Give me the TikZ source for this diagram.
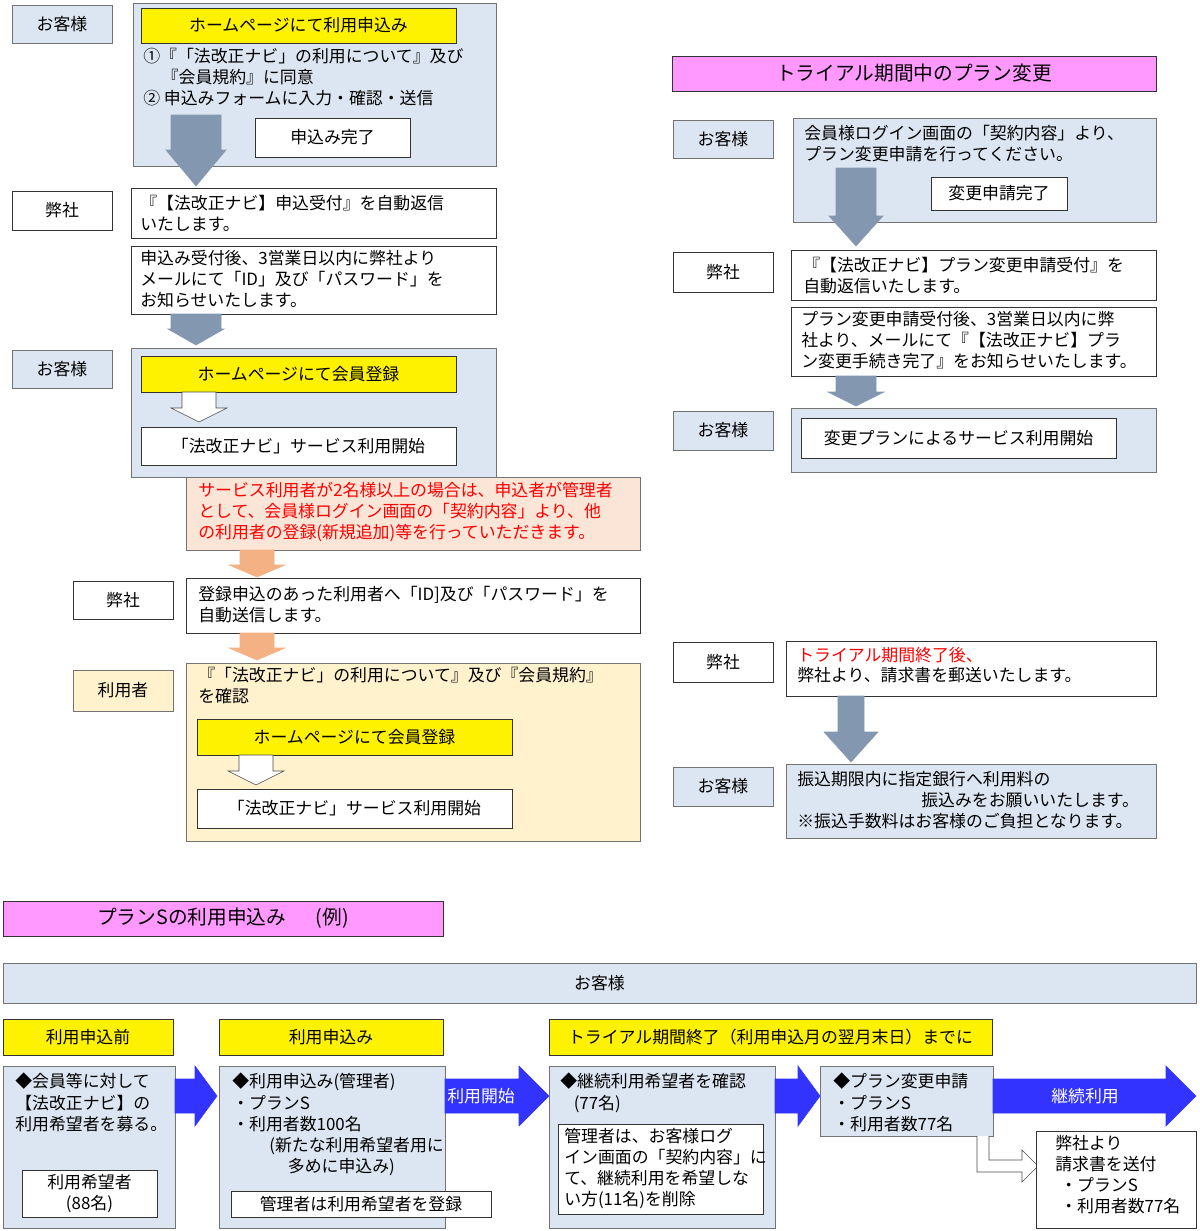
\documentclass[tikz,border=0pt]{standalone}
\usepackage{fontspec}
\setmainfont{Noto Sans CJK JP}
\usetikzlibrary{fit}
\definecolor{lblue}{HTML}{DCE6F2}
\definecolor{agray}{HTML}{8497B0}
\definecolor{pinkt}{HTML}{FF99FF}
\definecolor{peach}{HTML}{FBE5D6}
\definecolor{peacha}{HTML}{F4B183}
\definecolor{cream}{HTML}{FFF2CC}
\definecolor{barrow}{HTML}{3333FF}
\tikzset{
  base/.style={draw=black!55, inner sep=0pt},
  bluebox/.style={base, fill=lblue},
  whitebox/.style={base, draw=black!80, fill=white},
  yellowbox/.style={base, draw=black!80, fill=yellow},
  pinkbox/.style={base, draw=black!80, fill=pinkt},
  peachbox/.style={base, draw=black!55, fill=peach},
  creambox/.style={base, fill=cream},
  txt/.style={anchor=north west, align=left, inner sep=0pt},
}
% box from corner to corner
\newcommand{\bx}[6]{\node[#2, fit={(#3,#4)(#5,#6)}] (#1) {};}
% vertical arrow: cx, top, bottom, shaft half, head half, head length, style
\newcommand{\varr}[7]{\draw[#7] (#1-#4,#2) -- (#1+#4,#2) -- (#1+#4,#3-#6) -- (#1+#5,#3-#6) -- (#1,#3) -- (#1-#5,#3-#6) -- (#1-#4,#3-#6) -- cycle;}
% horizontal arrow: left, right, mid y, shaft half, head half, head length
\newcommand{\harr}[6]{\draw[draw=barrow, fill=barrow] (#1,#3-#4) -- (#2-#6,#3-#4) -- (#2-#6,#3-#5) -- (#2,#3) -- (#2-#6,#3+#5) -- (#2-#6,#3+#4) -- (#1,#3+#4) -- cycle;}
\begin{document}
\begin{tikzpicture}[x=0.025cm, y=-0.025cm, font=\fontsize{12}{15}\selectfont]
    \useasboundingbox (0,0) rectangle (1200,1231);

    % left column
    \bx{c1}{bluebox}{12}{5}{112}{43} \node at (c1) {お客様};
    \bx{apply}{bluebox}{133}{3}{496}{166}
    \bx{hp}{yellowbox}{141}{8}{456}{43} \node at (hp) {ホームページにて利用申込み};
    \node[txt] (agree) at (143,48) {①『「法改正ナビ」の利用について』及び\\\hspace{1.1em}『会員規約』に同意\\② 申込みフォームに入力・確認・送信};
    \bx{done}{whitebox}{255}{118}{410}{157} \node at (done) {申込み完了};
    \varr{196}{115}{186}{25}{30}{36}{draw=agray, fill=agray}
    \bx{s1}{whitebox}{12}{191}{112}{230} \node at (s1) {弊社};
    \bx{recv}{whitebox}{131}{188}{496}{238}
    \node[txt] at (140,195) {『【法改正ナビ】申込受付』を自動返信\\いたします。};
    \bx{mail}{whitebox}{131}{246}{496}{314}
    \node[txt] at (140,250) {申込み受付後、3営業日以内に弊社より\\メールにて「ID」及び「パスワード」を\\お知らせいたします。};
    \varr{196}{314}{345}{25}{28}{16}{draw=agray, fill=agray}
    \bx{c2}{bluebox}{12}{350}{112}{388} \node at (c2) {お客様};
    \bx{reg}{bluebox}{131}{348}{496}{477}
    \bx{hp2}{yellowbox}{141}{356}{456}{392} \node at (hp2) {ホームページにて会員登録};
    \varr{199}{392}{422}{17}{28}{14}{draw=black!70, fill=white}
    \bx{start}{whitebox}{141}{427}{456}{465} \node at (start) {「法改正ナビ」サービス利用開始};
    \bx{note}{peachbox}{186}{477}{640}{550}
    \node[txt, text=red] at (198,482) {サービス利用者が2名様以上の場合は、申込者が管理者\\として、会員様ログイン画面の「契約内容」より、他\\の利用者の登録(新規追加)等を行っていただきます。};
    \varr{257}{550}{577}{17}{28}{12}{draw=peacha, fill=peacha}
    \bx{s2}{whitebox}{73}{581}{173}{619} \node at (s2) {弊社};
    \bx{send}{whitebox}{186}{578}{640}{633}
    \node[txt] at (198,586) {登録申込のあった利用者へ「ID]及び「パスワード」を\\自動送信します。};
    \varr{257}{633}{660}{17}{28}{12}{draw=peacha, fill=peacha}
    \bx{u1}{creambox}{73}{670}{173}{711} \node at (u1) {利用者};
    \bx{user}{creambox}{186}{663}{640}{841}
    \node[txt] at (198,667) {『「法改正ナビ」の利用について』及び『会員規約』\\を確認};
    \bx{hp3}{yellowbox}{197}{719}{512}{755} \node at (hp3) {ホームページにて会員登録};
    \varr{256}{755}{785}{17}{28}{14}{draw=black!70, fill=white}
    \bx{start2}{whitebox}{197}{789}{512}{828} \node at (start2) {「法改正ナビ」サービス利用開始};

    % right column
    \bx{t1}{pinkbox}{672}{56}{1156}{91} \node[font=\fontsize{14}{16}\selectfont] at (t1) {トライアル期間中のプラン変更};
    \bx{c3}{bluebox}{673}{120}{773}{158} \node at (c3) {お客様};
    \bx{chg}{bluebox}{793}{118}{1156}{222}
    \node[txt] at (804,125) {会員様ログイン画面の「契約内容」より、\\プラン変更申請を行ってください。};
    \bx{chgdone}{whitebox}{931}{177}{1067}{210} \node at (chgdone) {変更申請完了};
    \varr{856}{168}{246}{20}{27}{30}{draw=agray, fill=agray}
    \bx{s3}{whitebox}{673}{252}{773}{292} \node at (s3) {弊社};
    \bx{chgrecv}{whitebox}{791}{250}{1156}{300}
    \node[txt] at (803,257) {『【法改正ナビ】プラン変更申請受付』を\\自動返信いたします。};
    \bx{chgmail}{whitebox}{791}{307}{1156}{376}
    \node[txt] at (801,311) {プラン変更申請受付後、3営業日以内に弊\\社より、メールにて『【法改正ナビ】プラ\\ン変更手続き完了』をお知らせいたします。};
    \varr{856}{376}{406}{20}{28}{14}{draw=agray, fill=agray}
    \bx{c4}{bluebox}{673}{411}{773}{450} \node at (c4) {お客様};
    \bx{newplan}{bluebox}{791}{408}{1156}{472}
    \bx{npstart}{whitebox}{801}{418}{1116}{458} \node at (npstart) {変更プランによるサービス利用開始};
    \bx{s4}{whitebox}{673}{642}{773}{682} \node at (s4) {弊社};
    \bx{bill}{whitebox}{786}{641}{1156}{696}
    \node[txt, text=red] at (797,647) {トライアル期間終了後、};
    \node[txt] at (797,667) {弊社より、請求書を郵送いたします。};
    \varr{851}{696}{762}{13}{27}{30}{draw=agray, fill=agray}
    \bx{c5}{bluebox}{673}{767}{773}{806} \node at (c5) {お客様};
    \bx{pay}{bluebox}{786}{764}{1156}{838}
    \node[txt] at (797,771) {振込期限内に指定銀行へ利用料の};
    \node[txt] at (921,792) {振込みをお願いいたします。};
    \node[txt] at (797,813) {※振込手数料はお客様のご負担となります。};

    % bottom
    \bx{t2}{pinkbox}{3}{901}{443}{936} \node[font=\fontsize{14}{16}\selectfont] at (t2) {プランSの利用申込み\hspace{1.5em}(例)};
    \bx{cust}{bluebox}{3}{963}{1196}{1003} \node at (cust) {お客様};
    \bx{h1}{yellowbox}{3}{1019}{173}{1055} \node at (h1) {利用申込前};
    \bx{h2}{yellowbox}{219}{1019}{443}{1055} \node at (h2) {利用申込み};
    \bx{h3}{yellowbox}{549}{1019}{992}{1055} \node at (h3) {トライアル期間終了（利用申込月の翌月末日）までに};
    \bx{b1}{bluebox}{3}{1066}{175}{1228}
    \node[txt] at (15,1073) {◆会員等に対して\\【法改正ナビ】の\\利用希望者を募る。};
    \bx{w1}{whitebox}{22}{1170}{157}{1217} \node[align=center] at (w1) {利用希望者\\(88名)};
    \harr{175}{217}{1096}{17}{30}{22}
    \bx{b2}{bluebox}{219}{1066}{445}{1228}
    \node[txt] at (232,1073) {◆利用申込み(管理者)\\・プランS\\・利用者数100名\\\hspace{2.2em}(新たな利用希望者用に\\\hspace{3.3em}多めに申込み)};
    \bx{w2}{whitebox}{231}{1191}{491}{1217} \node at (w2) {管理者は利用希望者を登録};
    \harr{445}{549}{1096}{17}{30}{30} \node[text=white] (use) at (481,1096) {利用開始};
    \bx{b3}{bluebox}{549}{1066}{775}{1228}
    \node[txt] at (560,1073) {◆継続利用希望者を確認\\\hspace{0.8em}(77名)};
    \bx{w3}{whitebox}{558}{1124}{763}{1214}
    \node[txt] at (564,1128) {管理者は、お客様ログ\\イン画面の「契約内容」に\\て、継続利用を希望しな\\い方(11名)を削除};
    \harr{775}{820}{1096}{17}{30}{22}
    \bx{b4}{bluebox}{820}{1066}{993}{1136}
    \node[txt] at (833,1073) {◆プラン変更申請\\・プランS\\・利用者数77名};
    \harr{993}{1196}{1096}{17}{30}{30} \node[text=white] (cont) at (1085,1096) {継続利用};
    \draw[draw=black!70, fill=white] (977,1136) -- (977,1172) -- (1022,1172) -- (1022,1182) -- (1038,1166) -- (1022,1150) -- (1022,1160) -- (989,1160) -- (989,1136);
    \bx{w4}{whitebox}{1036}{1131}{1196}{1228}
    \node[txt] at (1055,1135) {弊社より\\請求書を送付\\\hspace{0.3em}・プランS\\\hspace{0.3em}・利用者数77名};
\end{tikzpicture}
\end{document}
